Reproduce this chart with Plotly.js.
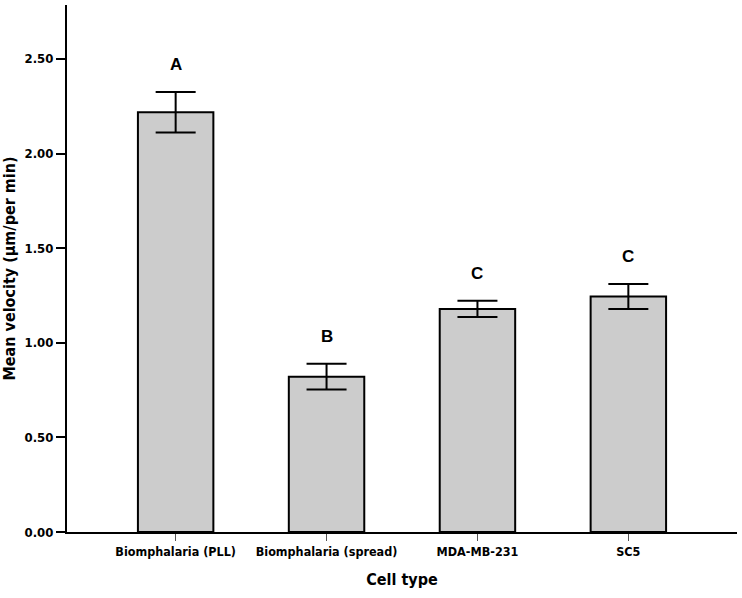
<!DOCTYPE html>
<html>
<head>
<meta charset="utf-8">
<script src="https://cdn.plot.ly/plotly-3.0.1.min.js"></script>
<style>
  html, body { margin: 0; padding: 0; background: #fff; }
  #chart { width: 742px; height: 598px; }
</style>
</head>
<body>
<div id="chart"></div>
<script>
  // values
  const cellTypes = ['Biomphalaria (PLL)', 'Biomphalaria (spread)', 'MDA-MB-231', 'SC5'];
  const meanVelocity = [2.218, 0.821, 1.179, 1.244];
  const errHalf = [0.107, 0.068, 0.043, 0.066];
  const groupLetters = ['A', 'B', 'C', 'C'];
  const yTicks = [0, 0.5, 1, 1.5, 2, 2.5];
  const yTickText = ['0.00', '0.50', '1.00', '1.50', '2.00', '2.50'];

  const narrow = '"DejaVu Sans Condensed", "Liberation Sans Narrow", "Arial Narrow", Arial, sans-serif';

  const bars = {
    type: 'bar',
    x: cellTypes,
    y: meanVelocity,
    width: 0.5,
    marker: { color: '#cccccc', line: { color: '#000', width: 2 } },
    error_y: { type: 'data', array: errHalf, visible: true, color: '#000', thickness: 2, width: 20 },
    hoverinfo: 'x+y'
  };

  // letters sit just above each error bar
  const letters = cellTypes.map((c, i) => ({
    x: c,
    y: meanVelocity[i] + errHalf[i],
    xref: 'x', yref: 'y',
    text: groupLetters[i],
    showarrow: false,
    yanchor: 'bottom',
    yshift: 16,
    font: { family: 'Liberation Sans, Arial, sans-serif', size: 17, color: '#000', weight: 'bold' }
  }));

  const layout = {
    width: 742,
    height: 598,
    margin: { l: 67, r: 5, t: 5, b: 66 },
    paper_bgcolor: '#fff',
    plot_bgcolor: '#fff',
    showlegend: false,
    xaxis: {
      type: 'category',
      range: [-0.72, 3.72],
      showline: true,
      linecolor: '#000',
      linewidth: 2,
      ticks: 'outside',
      ticklen: 7,
      tickcolor: '#555',
      tickwidth: 1,
      showgrid: false,
      zeroline: false,
      tickfont: { family: narrow, size: 12.5, color: '#000', weight: 'bold' },
      title: { text: 'Cell type', standoff: 16, font: { family: narrow, size: 16, color: '#000', weight: 'bold' } }
    },
    yaxis: {
      range: [0, 2.785],
      tickvals: yTicks,
      ticktext: yTickText,
      showline: true,
      linecolor: '#000',
      linewidth: 2,
      ticks: 'outside',
      ticklen: 9,
      tickcolor: '#000',
      tickwidth: 2,
      showgrid: false,
      zeroline: false,
      tickfont: { family: narrow, size: 13, color: '#000', weight: 'bold' },
      title: { text: 'Mean velocity (µm/per min)', standoff: 6, font: { family: narrow, size: 16, color: '#000', weight: 'bold' } }
    },
    annotations: letters
  };

  Plotly.newPlot('chart', [bars], layout, { displayModeBar: false, staticPlot: true });
</script>
</body>
</html>
